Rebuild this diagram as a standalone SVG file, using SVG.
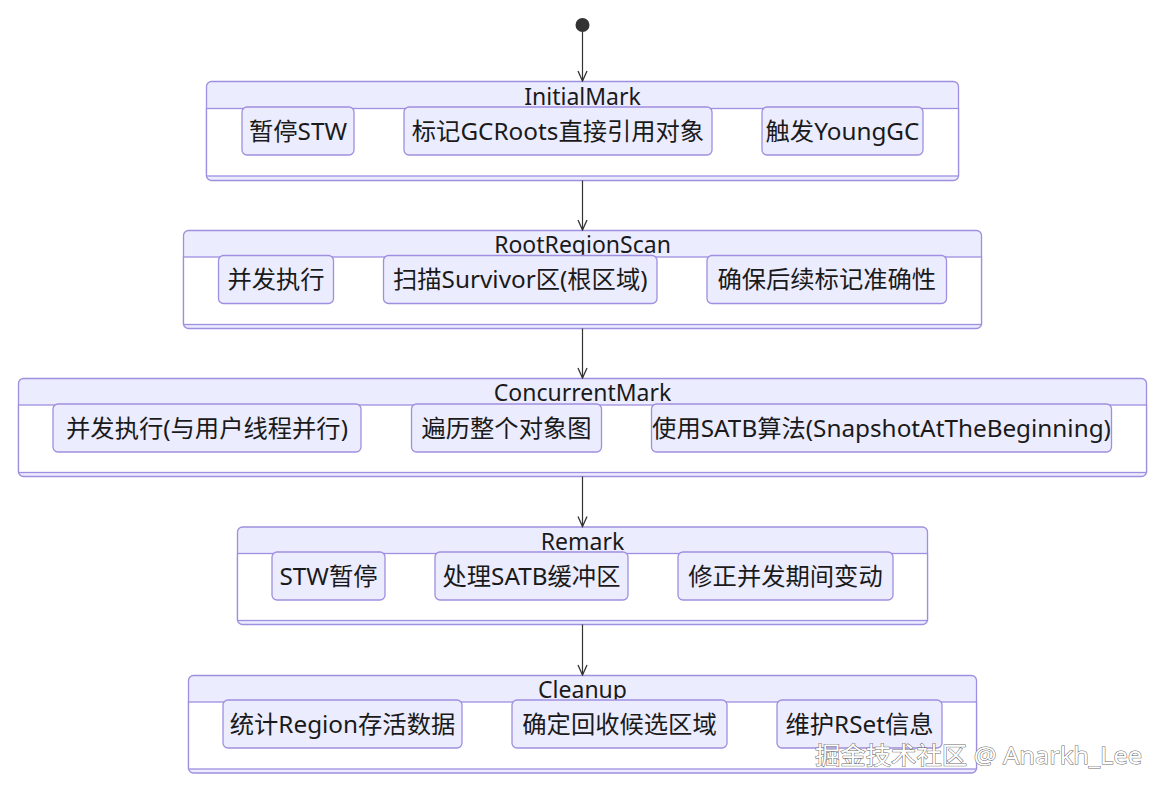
<svg xmlns="http://www.w3.org/2000/svg" width="1165" height="791" viewBox="0 0 1165 791">
<defs>
<style>
.outer{fill:#ECECFF;stroke:#9F8FE0;stroke-width:1.3}
.inner{fill:#FFFFFF;stroke:#9F8FE0;stroke-width:1.3}
.node rect{fill:#ECECFF;stroke:#9F8FE0;stroke-width:1.3}
text{font-family:"Noto Sans","Noto Sans CJK SC",sans-serif;font-size:24.3px;fill:#1a1a1a;text-anchor:middle}
.title{font-size:23px}
.edge{stroke:#333;stroke-width:1.2;fill:none}
.wm{font-size:24px;fill:#fff;stroke:#6a6a6a;stroke-width:1;paint-order:stroke;text-anchor:start}
</style>
<marker id="arrow" viewBox="0 0 12 12" refX="11" refY="6" markerWidth="12" markerHeight="12" markerUnits="userSpaceOnUse" orient="auto">
<path d="M1,1.5 L11,6 L1,10.5" fill="none" stroke="#333" stroke-width="1.3"/>
</marker>
</defs>
<rect width="1165" height="791" fill="#fff"/>

<g id="cluster-InitialMark">
<rect class="outer" x="206.5" y="81.5" width="752" height="99" rx="5"/>
<rect class="inner" x="206.5" y="108.5" width="752" height="67.5"/>
<text class="title" x="582.5" y="104.5">InitialMark</text>
<g class="node" id="n-stw"><rect x="242" y="107" width="112" height="48" rx="5"/><text x="298" y="139.5">暂停STW</text></g>
<g class="node" id="n-gcroots"><rect x="404" y="107" width="308" height="48" rx="5"/><text x="558" y="139.5">标记GCRoots直接引用对象</text></g>
<g class="node" id="n-younggc"><rect x="762" y="107" width="161" height="48" rx="5"/><text x="842.5" y="139.5">触发YoungGC</text></g>
</g>

<g id="cluster-RootRegionScan">
<rect class="outer" x="183.5" y="230.5" width="798" height="98" rx="5"/>
<rect class="inner" x="183.5" y="257" width="798" height="67.5"/>
<text class="title" x="582.5" y="253">RootRegionScan</text>
<g class="node" id="n-conc1"><rect x="218.5" y="255.5" width="115" height="48" rx="5"/><text x="276" y="288">并发执行</text></g>
<g class="node" id="n-survivor"><rect x="383.5" y="255.5" width="273.5" height="48" rx="5"/><text x="520.25" y="288">扫描Survivor区(根区域)</text></g>
<g class="node" id="n-ensure"><rect x="707" y="255.5" width="239.5" height="48" rx="5"/><text x="826.75" y="288">确保后续标记准确性</text></g>
</g>

<g id="cluster-ConcurrentMark">
<rect class="outer" x="18.5" y="378.5" width="1128" height="98" rx="5"/>
<rect class="inner" x="18.5" y="405" width="1128" height="67.5"/>
<text class="title" x="582.5" y="401">ConcurrentMark</text>
<g class="node" id="n-conc2"><rect x="53" y="404" width="308" height="48" rx="5"/><text x="207" y="436.5">并发执行(与用户线程并行)</text></g>
<g class="node" id="n-traverse"><rect x="411.5" y="404" width="190" height="48" rx="5"/><text x="506.5" y="436.5">遍历整个对象图</text></g>
<g class="node" id="n-satb"><rect x="651.5" y="404" width="460" height="48" rx="5"/><text x="881.5" y="436.5">使用SATB算法(SnapshotAtTheBeginning)</text></g>
</g>

<g id="cluster-Remark">
<rect class="outer" x="237.5" y="527" width="690" height="97.5" rx="5"/>
<rect class="inner" x="237.5" y="553.5" width="690" height="67"/>
<text class="title" x="582.5" y="549.5">Remark</text>
<g class="node" id="n-stw2"><rect x="272" y="552" width="113" height="48" rx="5"/><text x="328.5" y="584.5">STW暂停</text></g>
<g class="node" id="n-satbbuf"><rect x="435" y="552" width="193" height="48" rx="5"/><text x="531.5" y="584.5">处理SATB缓冲区</text></g>
<g class="node" id="n-fix"><rect x="678" y="552" width="215" height="48" rx="5"/><text x="785.5" y="584.5">修正并发期间变动</text></g>
</g>

<g id="cluster-Cleanup">
<rect class="outer" x="188.5" y="675.5" width="788" height="97.5" rx="5"/>
<rect class="inner" x="188.5" y="702" width="788" height="67"/>
<text class="title" x="582.5" y="698">Cleanup</text>
<g class="node" id="n-stat"><rect x="223" y="700" width="239" height="48" rx="5"/><text x="342.5" y="732.5">统计Region存活数据</text></g>
<g class="node" id="n-cand"><rect x="512" y="700" width="215" height="48" rx="5"/><text x="619.5" y="732.5">确定回收候选区域</text></g>
<g class="node" id="n-rset"><rect x="777" y="700" width="165" height="48" rx="5"/><text x="859.5" y="732.5">维护RSet信息</text></g>
</g>

<g id="start"><circle cx="582.5" cy="25" r="7" fill="#333"/></g>

<g id="connectors">
<line class="edge" x1="582.5" y1="32" x2="582.5" y2="81" marker-end="url(#arrow)"/>
<line class="edge" x1="582.5" y1="180.5" x2="582.5" y2="230" marker-end="url(#arrow)"/>
<line class="edge" x1="582.5" y1="328.5" x2="582.5" y2="378" marker-end="url(#arrow)"/>
<line class="edge" x1="582.5" y1="476.5" x2="582.5" y2="526.5" marker-end="url(#arrow)"/>
<line class="edge" x1="582.5" y1="624.5" x2="582.5" y2="675" marker-end="url(#arrow)"/>
</g>

<text class="wm" x="815" y="764" textLength="327" lengthAdjust="spacingAndGlyphs">掘金技术社区 @ Anarkh_Lee</text>
</svg>
